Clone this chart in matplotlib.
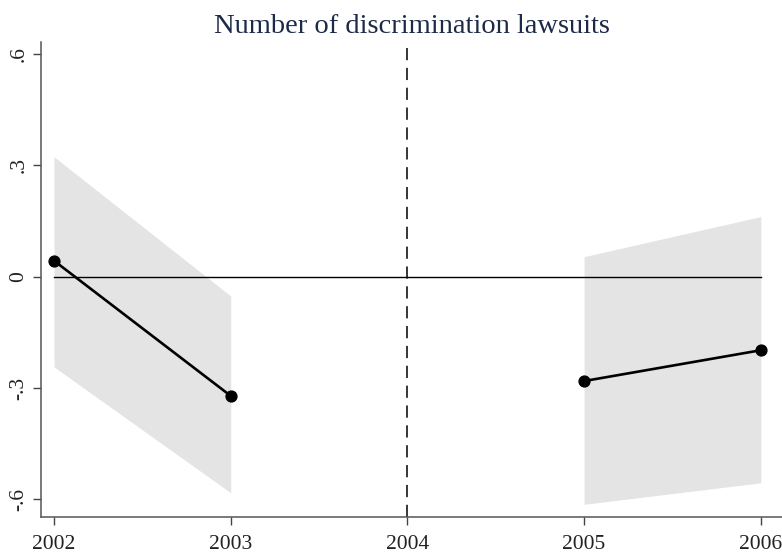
import numpy as np
import matplotlib
matplotlib.use("Agg")
import matplotlib.pyplot as plt

# values
years_pre = [2002, 2003]
coef_pre = [0.043, -0.321]
lo_pre = [-0.243, -0.582]
hi_pre = [0.323, -0.052]

years_post = [2005, 2006]
coef_post = [-0.281, -0.198]
lo_post = [-0.613, -0.555]
hi_post = [0.054, 0.162]

xticks = [2002, 2003, 2004, 2005, 2006]
yticks = [0.6, 0.3, 0, -0.3, -0.6]
ylabels = ['.6', '.3', '0', '-.3', '-.6']
event_year = 2004

plt.rcParams['font.family'] = ['Liberation Serif', 'DejaVu Serif']

fig = plt.figure(figsize=(7.82, 5.55), dpi=100)
ax = fig.add_axes([0.0524, 0.0679, 0.9476, 0.857])

ci_col = '#e4e4e4'
ax.fill_between(years_pre, lo_pre, hi_pre, color=ci_col, lw=0, zorder=1)
ax.fill_between(years_post, lo_post, hi_post, color=ci_col, lw=0, zorder=1)

ax.plot([xticks[0], xticks[-1]], [0, 0], color='black', lw=1.0, zorder=2)
ax.axvline(event_year, color='black', lw=1.1, ls=(0, (8, 5)), zorder=2)

for xs, ys in [(years_pre, coef_pre), (years_post, coef_post)]:
    ax.plot(xs, ys, color='black', lw=1.9, marker='o', ms=7.8, zorder=3)

ax.set_xlim(2001.926, 2006.12)
ax.set_ylim(-0.648, 0.633)

ax.set_xticks(xticks)
ax.set_xticklabels([str(x) for x in xticks])
ax.set_yticks(yticks)
ax.set_yticklabels(ylabels, rotation=90, va='center')

for s in ['top', 'right']:
    ax.spines[s].set_visible(False)
for s in ['left', 'bottom']:
    ax.spines[s].set_color('#555555')
    ax.spines[s].set_linewidth(1.1)

ax.tick_params(axis='both', length=6, width=1.0, color='#444444',
               labelsize=15.5, labelcolor='#222222')
ax.tick_params(axis='x', pad=7)
ax.tick_params(axis='y', pad=3)

ax.set_title('Number of discrimination lawsuits', fontsize=20.5,
             color='#1c2a48', pad=6)

fig.savefig('out.png', dpi=100)
